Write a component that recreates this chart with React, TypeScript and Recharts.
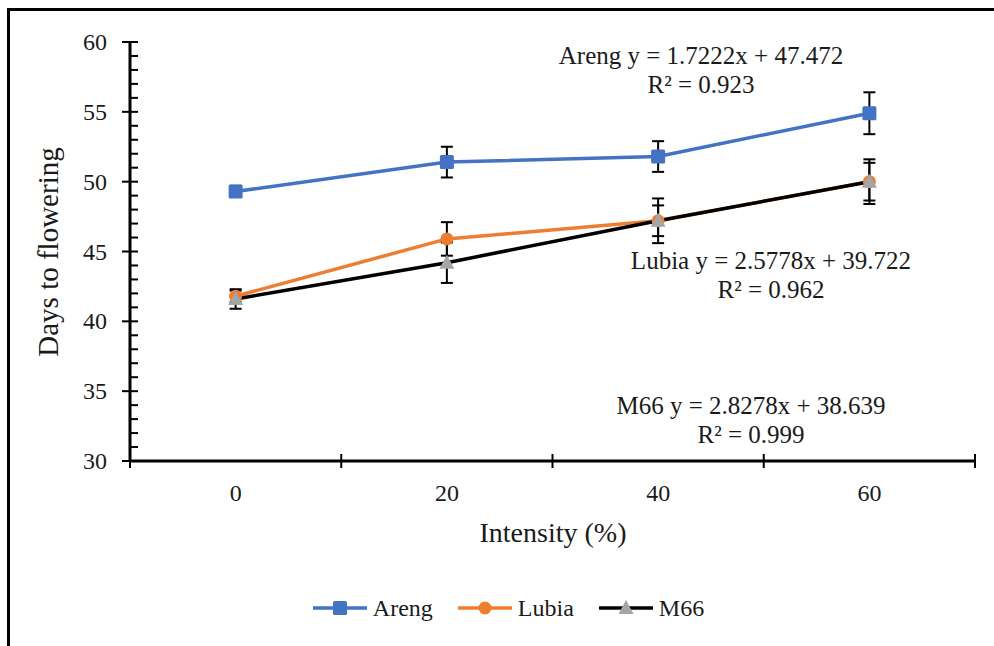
import { LineChart, Line, XAxis, YAxis, ErrorBar, Legend, Customized } from 'recharts';

// Days to flowering vs light intensity, three varieties

const intensity = [0, 20, 40, 60];
const areng = [49.3, 51.4, 51.8, 54.9];
const arengErr = [0.4, 1.1, 1.1, 1.5];
const lubia = [41.8, 45.9, 47.2, 50.0];
const lubiaErr = [0.4, 1.2, 1.6, 1.6];
const m66 = [41.6, 44.2, 47.2, 50.0];
const m66Err = [0.7, 1.45, 1.1, 1.35];

const xTicks = [-10, 0, 10, 20, 30, 40, 50, 60, 70];
const xLabelTicks = [0, 20, 40, 60];
const yTicks = [30, 31, 32, 33, 34, 35, 36, 37, 38, 39, 40, 41, 42, 43, 44, 45, 46, 47, 48, 49, 50,
  51, 52, 53, 54, 55, 56, 57, 58, 59, 60];

const equations = [
  { name: "Areng", eq: "Areng y = 1.7222x + 47.472", r2: "R² = 0.923", x: 701, y: 55 },
  { name: "Lubia", eq: "Lubia y = 2.5778x + 39.722", r2: "R² = 0.962", x: 771, y: 260 },
  { name: "M66", eq: "M66 y = 2.8278x + 38.639", r2: "R² = 0.999", x: 751, y: 405 },
];

const data = intensity.map((x, i) => ({
  x,
  areng: areng[i], arengErr: arengErr[i],
  lubia: lubia[i], lubiaErr: lubiaErr[i],
  m66: m66[i], m66Err: m66Err[i],
}));

const FONT = '"Liberation Serif", "Times New Roman", serif';
const TEXT = "#1a1a1a";
const BLUE = "#4472C4";
const ORANGE = "#ED7D31";
const GRAY = "#A5A5A5";

const YTick = (props: any) => {
  const { x, y, payload } = props;
  const major = payload.value % 5 === 0;
  return (
    <g>
      <line x1={major ? x - 8 : x} x2={x + 8} y1={y} y2={y} stroke="#000" strokeWidth={2} />
      {major && (
        <text x={x - 23} y={y} textAnchor="end" dominantBaseline="central"
          fontFamily={FONT} fontSize={24} fill={TEXT}>{payload.value}</text>
      )}
    </g>
  );
};

const XTick = (props: any) => {
  const { x, y, payload } = props;
  if (xLabelTicks.includes(payload.value)) {
    return (
      <text x={x} y={y + 32} textAnchor="middle" dominantBaseline="central"
        fontFamily={FONT} fontSize={24} fill={TEXT}>{payload.value}</text>
    );
  }
  return <line x1={x} x2={x} y1={y - 7} y2={y + 7} stroke="#000" strokeWidth={2} />;
};

const squareDot = (props: any) => {
  const { cx, cy, index } = props;
  return <rect key={`sq-${index}`} x={cx - 7} y={cy - 7} width={14} height={14} rx={1.5} fill={BLUE} />;
};

const circleDot = (props: any) => {
  const { cx, cy, index } = props;
  return <circle key={`ci-${index}`} cx={cx} cy={cy} r={6.5} fill={ORANGE} />;
};

const triangleDot = (props: any) => {
  const { cx, cy, index } = props;
  return <path key={`tr-${index}`} d={`M${cx},${cy - 8} L${cx + 7.5},${cy + 6} L${cx - 7.5},${cy + 6} Z`} fill={GRAY} />;
};

const legendItems = [
  { name: "Areng", color: BLUE, marker: "square" },
  { name: "Lubia", color: ORANGE, marker: "circle" },
  { name: "M66", color: "#000", marker: "triangle" },
];

const LegendContent = () => (
  <div style={{ display: "flex", justifyContent: "center", alignItems: "center", height: 30, gap: 24, paddingLeft: 22 }}>
    {legendItems.map(item => (
      <div key={item.name} style={{ display: "flex", alignItems: "center", gap: 5 }}>
        <svg width={56} height={20}>
          <line x1={1} x2={55} y1={10} y2={10} stroke={item.color} strokeWidth={3.5} />
          {item.marker === "square" && <rect x={21} y={3} width={14} height={14} rx={1.5} fill={BLUE} />}
          {item.marker === "circle" && <circle cx={28} cy={10} r={6.5} fill={ORANGE} />}
          {item.marker === "triangle" && <path d="M28,2 L35.5,16 L20.5,16 Z" fill={GRAY} />}
        </svg>
        <span style={{ fontFamily: FONT, fontSize: 24, color: TEXT }}>{item.name}</span>
      </div>
    ))}
  </div>
);

const Annotations = () => (
  <g fontFamily={FONT} fill={TEXT}>
    <text x={48} y={252} fontSize={29} textAnchor="middle" dominantBaseline="central"
      transform="rotate(-90 48 252)">Days to flowering</text>
    <text x={553} y={532} fontSize={28} textAnchor="middle" dominantBaseline="central">Intensity (%)</text>
    {equations.map(e => (
      <g key={e.name}>
        <text x={e.x} y={e.y} fontSize={25} textAnchor="middle" dominantBaseline="central">{e.eq}</text>
        <text x={e.x} y={e.y + 29} fontSize={25} textAnchor="middle" dominantBaseline="central">{e.r2}</text>
      </g>
    ))}
  </g>
);

export default function App() {
  return (
    <div style={{ position: "absolute", left: 0, top: 0, width: 994, height: 646, background: "#fff", overflow: "hidden" }}>
      <div style={{ position: "absolute", left: 7, top: 8, width: 1000, height: 700, borderTop: "3px solid #000", borderLeft: "3px solid #000" }} />
      <LineChart width={994} height={646} data={data} margin={{ top: 42, right: 19, left: 70, bottom: 95 }}>
        <XAxis dataKey="x" type="number" domain={[-10, 70]} ticks={xTicks} interval={0}
          height={60} tickSize={0} tickMargin={0} tickLine={false}
          axisLine={{ stroke: "#000", strokeWidth: 3 }} tick={<XTick />} />
        <YAxis type="number" domain={[30, 60]} ticks={yTicks} interval={0}
          width={60} tickSize={0} tickMargin={0} tickLine={false}
          axisLine={{ stroke: "#000", strokeWidth: 3 }} tick={<YTick />} />
        <Legend verticalAlign="bottom" height={30} content={<LegendContent />}
          wrapperStyle={{ top: 593, bottom: "auto", left: 0, width: 994 }} />
        <Line dataKey="areng" name="Areng" stroke={BLUE} strokeWidth={3.5} dot={squareDot} isAnimationActive={false}>
          <ErrorBar dataKey="arengErr" direction="y" width={6} stroke="#000" strokeWidth={2} />
        </Line>
        <Line dataKey="lubia" name="Lubia" stroke={ORANGE} strokeWidth={3.5} dot={circleDot} isAnimationActive={false}>
          <ErrorBar dataKey="lubiaErr" direction="y" width={6} stroke="#000" strokeWidth={2} />
        </Line>
        <Line dataKey="m66" name="M66" stroke="#000" strokeWidth={3.5} dot={triangleDot} isAnimationActive={false}>
          <ErrorBar dataKey="m66Err" direction="y" width={6} stroke="#000" strokeWidth={2} />
        </Line>
        <Customized component={Annotations} />
      </LineChart>
    </div>
  );
}
